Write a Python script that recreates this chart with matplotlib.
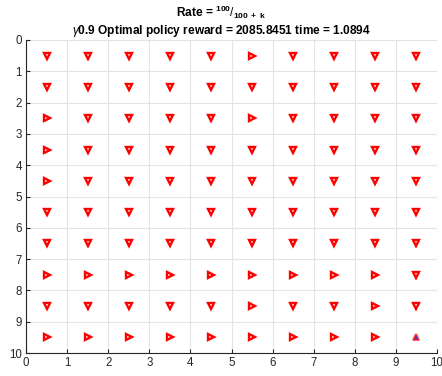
import matplotlib
matplotlib.use("Agg")
import matplotlib.pyplot as plt
import numpy as np

plt.rcParams['font.family'] = ['Liberation Sans', 'DejaVu Sans']
plt.rcParams['mathtext.fontset'] = 'custom'
plt.rcParams['mathtext.rm'] = 'Liberation Sans'
plt.rcParams['mathtext.bf'] = 'Liberation Sans:bold'
plt.rcParams['mathtext.it'] = 'Liberation Sans:italic'

# Optimal action per cell, row 0 at the top: D = down, R = right, G = goal
policy = [
    "DDDDDRDDDD",
    "DDDDDDDDDD",
    "RDDDDRDDDD",
    "RDDDDDDDDD",
    "RDDDDDDDDD",
    "DDDDDDDDDD",
    "DDDDDDDDDD",
    "RRRRRRRRRD",
    "DDDDDRDDRD",
    "RRRRRRRRRG",
]
ticks = list(range(0, 11))
gamma = 0.9
reward = 2085.8451
elapsed = 1.0894

fig = plt.figure(figsize=(4.42, 3.76), dpi=100)
ax = fig.add_axes([26 / 442, 23 / 376, 411 / 442, 313 / 376])

markers = {"D": "v", "R": ">"}
for r, row in enumerate(policy):
    for c, a in enumerate(row):
        x, y = c + 0.5, r + 0.5
        if a == "G":
            ax.plot(x, y, marker="^", ms=5, mfc="#2020ff", mec="#ff3030",
                    mew=1.2, ls="none", zorder=3)
        else:
            ax.plot(x, y, marker=markers[a], ms=4.5, mfc="white", mec="#ff0000",
                    mew=1.7, ls="none", zorder=3)

ax.set_xlim(0, 10)
ax.set_ylim(10, 0)
ax.set_xticks(ticks)
ax.set_yticks(ticks)
ax.grid(True, color="#e3e3e3", lw=0.8)
ax.set_axisbelow(True)
for s in ("top", "right"):
    ax.spines[s].set_visible(False)
for s in ("left", "bottom"):
    ax.spines[s].set_color("#262626")
    ax.spines[s].set_linewidth(0.8)
ax.tick_params(direction="in", length=3, width=0.8, colors="#262626",
               labelsize=8.3, pad=3)

fig.text(0.5, 1 - 17 / 376, r"Rate = $^{\mathbf{100}}/_{\mathbf{100\ +\ k}}$",
         ha="center", va="baseline", fontsize=8.6, fontweight="bold")
fig.text(0.5, 1 - 34 / 376,
         r"$\gamma$" + f"{gamma} Optimal policy reward = {reward:.4f} time = {elapsed:.4f}",
         ha="center", va="baseline", fontsize=8.6, fontweight="bold")

fig.savefig("out.png", dpi=100)
